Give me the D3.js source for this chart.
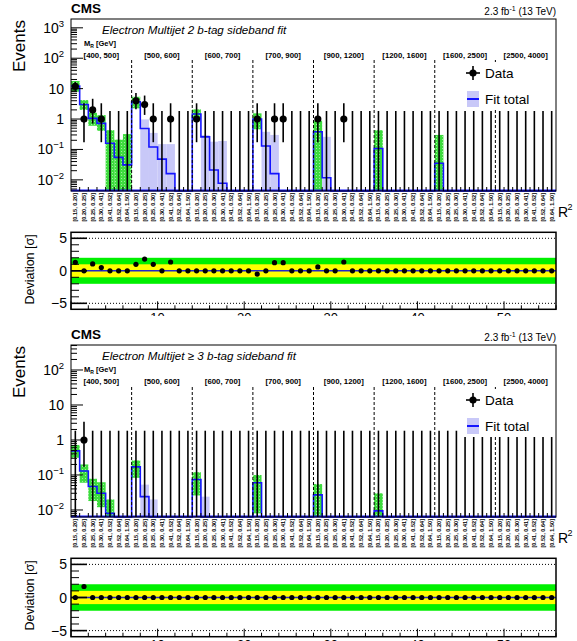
<!DOCTYPE html>
<html><head><meta charset="utf-8">
<script src="https://cdn.jsdelivr.net/npm/d3@7"></script>
<style>body{margin:0;background:#fff}svg{display:block}text{font-family:"Liberation Sans",Arial,Helvetica,sans-serif}</style>
</head><body>
<svg id="c" width="577" height="641"></svg>
<script>
// ---------------- DATA ----------------
const mrBins = ["[400, 500]","[500, 600]","[600, 700]","[700, 900]","[900, 1200]","[1200, 1600]","[1600, 2500]","[2500, 4000]"];
const r2Bins = ["[0.15, 0.20]","[0.20, 0.25]","[0.25, 0.30]","[0.30, 0.41]","[0.41, 0.52]","[0.52, 0.64]","[0.64, 1.50]"];
const yTicksTop = [0.01,0.1,1,10,100,1000];
const yTicksBot = [0.01,0.1,1,10,100];
const devTicks = [-5,0,5];
const devXTicks = [10,20,30,40,50];

// Electron Multijet 2 b-tag
const data2b = [12,1,2,1,0,0,0, 4,3,1,0,1,0,0, 1,0,0,0,0,0,0, 1,0,1,1,0,0,0, 1,0,0,1,0,0,0, 0,0,0,0,0,0,0, 0,0,0,0,0,0,0, 0,0,0,0,0,0,0];
const fit2b = [12.2,3.0,1.05,0.72,0.16,0.055,0.031, 3.7,0.49,0.12,0.048,0.016,0.001,0.001, 1.46,0.26,0.021,0.0077,0.001,0.001,0.001, 1.0,0.13,0.016,0.001,0.001,0.001,0.001, 0.38,0.0117,0.001,0.001,0.001,0.001,0.001, 0.108,0.001,0.001,0.001,0.001,0.001,0.001, 0.035,0.001,0.001,0.001,0.001,0.001,0.001, 0.001,0.001,0.001,0.001,0.001,0.001,0.001];
const bandLo2b = [7.9,2.0,0.6,0.41,0,0,0, 2.25,0,0,0,0,0,0, 0.98,0,0,0,0,0,0, 0.46,0,0,0,0,0,0, 0,0,0,0,0,0,0, 0,0,0,0,0,0,0, 0,0,0,0,0,0,0, 0,0,0,0,0,0,0];
const bandHi2b = [17.8,4.2,1.6,1.35,0.43,0.21,0.32, 5.4,0.97,0.35,0.15,0.15,0,0, 2.08,0.3,0.18,0.19,0,0,0, 1.54,0.38,0.3,0,0,0,0, 0.88,0.26,0,0,0,0,0, 0.43,0,0,0,0,0,0, 0.30,0,0,0,0,0,0, 0,0,0,0,0,0,0];
const bandKind2b = ["g","g","g","g","g","g","g", "g","b","b","b","b","n","n", "g","b","b","b","n","n","n", "g","b","b","n","n","n","n", "g","b","n","n","n","n","n", "g","n","n","n","n","n","n", "g","n","n","n","n","n","n", "n","n","n","n","n","n","n"];
const dev2b = [1.3,0,1.05,0.5,0,0,0, 1.0,1.8,1.0,0,1.35,0,0, 0,0,0,0,0,0,0, -0.5,0,1.25,1.25,0,0,0, 0.6,0,0,1.35,0,0,0, 0,0,0,0,0,0,0, 0,0,0,0,0,0,0, 0,0,0,0,0,0,0];

// Electron Multijet >= 3 b-tag
const data3b = [0,1,0,0,0,0,0, 0,0,0,0,0,0,0, 0,0,0,0,0,0,0, 0,0,0,0,0,0,0, 0,0,0,0,0,0,0, 0,0,0,0,0,0,0, 0,0,0,0,0,0,0, 0,0,0,0,0,0,0];
const fit3b = [0.49,0.13,0.047,0.03,0.008,0.0001,0.0001, 0.17,0.024,0.0001,0.0001,0.0001,0.0001,0.0001, 0.074,0.0001,0.0001,0.0001,0.0001,0.0001,0.0001, 0.06,0.0001,0.0001,0.0001,0.0001,0.0001,0.0001, 0.027,0.0001,0.0001,0.0001,0.0001,0.0001,0.0001, 0.0094,0.0001,0.0001,0.0001,0.0001,0.0001,0.0001, 0.0001,0.0001,0.0001,0.0001,0.0001,0.0001,0.0001, 0.0001,0.0001,0.0001,0.0001,0.0001,0.0001,0.0001];
const bandLo3b = [0.31,0.06,0.018,0.012,0,0,0, 0.083,0,0,0,0,0,0, 0.026,0,0,0,0,0,0, 0.008,0,0,0,0,0,0, 0,0,0,0,0,0,0, 0,0,0,0,0,0,0, 0,0,0,0,0,0,0, 0,0,0,0,0,0,0];
const bandHi3b = [0.72,0.2,0.078,0.062,0.02,0,0, 0.26,0.053,0.02,0,0,0,0, 0.12,0.024,0,0,0,0,0, 0.1,0,0,0,0,0,0, 0.055,0,0,0,0,0,0, 0.03,0,0,0,0,0,0, 0,0,0,0,0,0,0, 0,0,0,0,0,0,0];
const bandKind3b = ["g","g","g","g","g","n","n", "g","b","b","n","n","n","n", "g","b","n","n","n","n","n", "g","n","n","n","n","n","n", "g","n","n","n","n","n","n", "g","n","n","n","n","n","n", "n","n","n","n","n","n","n", "n","n","n","n","n","n","n"];
const dev3b = [0,1.66,0,0,0,0,0, 0,0,0,0,0,0,0, 0,0,0,0,0,0,0, 0,0,0,0,0,0,0, 0,0,0,0,0,0,0, 0,0,0,0,0,0,0, 0,0,0,0,0,0,0, 0,0,0,0,0,0,0];

// Poisson (Garwood) intervals used for the data error bars
const poissonLo = {0:0, 1:0.173, 2:0.708, 3:1.367, 4:2.086, 12:8.45};
const poissonHi = {0:1.84, 1:3.30, 2:4.64, 3:5.92, 4:7.16, 12:16.7};

// ---------------- DRAW ----------------
const svg = d3.select("#c");
const GREEN = "#00f000", YELLOW = "#ffff00", BLUE = "#1414ff", LBLUE = "#c8c8f8", HGREEN = "#3ddc3d";
const defs = svg.append("defs");
const pat = defs.append("pattern").attr("id","hatch").attr("width",3).attr("height",3).attr("patternUnits","userSpaceOnUse");
pat.append("rect").attr("width",3).attr("height",3).attr("fill",HGREEN);
pat.append("rect").attr("x",1).attr("y",1).attr("width",1).attr("height",1).attr("fill","#9cf09c");

const X0 = 71, X1 = 556;
const nb = 56;
const xBin = d3.scaleLinear().domain([0, nb]).range([X0, X1]);

function drawPanel(cfg){
  const g = svg.append("g");
  if (cfg.cover) g.append("rect").attr("x",0).attr("y",cfg.cover).attr("width",577).attr("height",641-cfg.cover).attr("fill","#fff");
  const y = d3.scaleLog().domain(cfg.ydom).range([cfg.yb, cfg.yt]);
  const ymin = cfg.ydom[0];
  const cy = v => y(Math.max(v, ymin));

  // bands
  const idx = d3.range(nb);
  g.selectAll(".band").data(idx.filter(i => cfg.kind[i] !== "n" && cfg.hi[i] > ymin)).join("rect")
    .attr("x", i => xBin(i)).attr("width", i => xBin(i+1)-xBin(i))
    .attr("y", i => cy(cfg.hi[i])).attr("height", i => cy(cfg.lo[i]) - cy(cfg.hi[i]))
    .attr("fill", i => cfg.kind[i] === "g" ? "url(#hatch)" : LBLUE);

  // fit step line
  let pts = [];
  idx.forEach(i => { pts.push([xBin(i), cy(cfg.fit[i])]); pts.push([xBin(i+1), cy(cfg.fit[i])]); });
  g.append("path").attr("d", d3.line()(pts)).attr("fill","none").attr("stroke",BLUE).attr("stroke-width",1.6);
  g.append("line").attr("x1",X0).attr("x2",X1).attr("y1",cfg.yb-0.5).attr("y2",cfg.yb-0.5).attr("stroke",BLUE).attr("stroke-width",2);

  // dividers
  d3.range(1,8).forEach(k => {
    g.append("line").attr("x1",xBin(k*7)).attr("x2",xBin(k*7)).attr("y1",cfg.divTop).attr("y2",cfg.yb)
     .attr("stroke","#000").attr("stroke-width",1).attr("stroke-dasharray","3,2");
  });

  // data error bars & points
  idx.forEach(i => {
    const n = cfg.data[i], xc = xBin(i+0.5);
    g.append("line").attr("x1",xc).attr("x2",xc).attr("y1",cy(n===0?ymin:poissonLo[n])).attr("y2",cy(poissonHi[n]))
      .attr("stroke","#000").attr("stroke-width",1.6);
    if (n > 0) g.append("circle").attr("cx",xc).attr("cy",y(n)).attr("r",3.6).attr("fill","#000");
  });

  // x ticks at bin edges
  d3.range(1,nb).forEach(i => g.append("line").attr("x1",xBin(i)).attr("x2",xBin(i)).attr("y1",cfg.yb).attr("y2",cfg.yb-4).attr("stroke","#000"));

  // legend
  const L = cfg.legY;
  g.append("rect").attr("x",463).attr("y",L-11).attr("width",92).attr("height",48).attr("fill","#fff");
  g.append("line").attr("x1",466).attr("x2",480).attr("y1",L).attr("y2",L).attr("stroke","#000").attr("stroke-width",1.6);
  g.append("line").attr("x1",473).attr("x2",473).attr("y1",L-7).attr("y2",L+7).attr("stroke","#000").attr("stroke-width",1.6);
  g.append("circle").attr("cx",473).attr("cy",L).attr("r",3.6).attr("fill","#000");
  g.append("text").attr("x",485).attr("y",L+4.5).attr("font-size",13.5).text("Data");
  g.append("rect").attr("x",467).attr("y",L+18).attr("width",12).attr("height",16).attr("fill",LBLUE);
  g.append("line").attr("x1",467).attr("x2",479).attr("y1",L+26).attr("y2",L+26).attr("stroke",BLUE).attr("stroke-width",2);
  g.append("text").attr("x",485).attr("y",L+30.5).attr("font-size",13.5).text("Fit total");

  // frame
  g.append("rect").attr("x",X0).attr("y",cfg.yt).attr("width",X1-X0).attr("height",cfg.yb-cfg.yt).attr("fill","none").attr("stroke","#000").attr("stroke-width",1);

  // y axis ticks (log)
  const lo = Math.floor(Math.log10(cfg.ydom[0])), hi = Math.ceil(Math.log10(cfg.ydom[1]));
  for (let e = lo; e <= hi; e++) for (let m = 1; m <= 9; m++) {
    const v = m * Math.pow(10, e);
    if (v < cfg.ydom[0] || v > cfg.ydom[1]) continue;
    const len = m === 1 ? 12 : 6;
    g.append("line").attr("x1",X0).attr("x2",X0+len).attr("y1",y(v)).attr("y2",y(v)).attr("stroke","#000").attr("stroke-width",1);
  }
  cfg.yTicks.forEach(v => {
    const e = Math.round(Math.log10(v));
    const t = g.append("text").attr("x",64).attr("y",y(v)+5).attr("text-anchor","end").attr("font-size",14);
    if (e === 0) t.text("1");
    else if (e === 1) t.text("10");
    else { t.append("tspan").text("10"); t.append("tspan").attr("dy",-6).attr("font-size",9.5).text(e < 0 ? "\u2212" + (-e) : String(e)); }
  });

  // y title
  g.append("text").attr("transform",`translate(25,${cfg.yt+1}) rotate(-90)`).attr("text-anchor","end").attr("font-size",17).text("Events");

  // texts
  g.append("text").attr("x",X0).attr("y",cfg.yt-6).attr("font-size",13.5).attr("font-weight","bold").text("CMS");
  const lt = g.append("text").attr("x",X1).attr("y",cfg.yt-4).attr("text-anchor","end").attr("font-size",10);
  lt.append("tspan").text("2.3 fb"); lt.append("tspan").attr("dy",-4).attr("font-size",7).text("-1");
  lt.append("tspan").attr("dy",4).text(" (13 TeV)");
  g.append("text").attr("x",102).attr("y",cfg.yt+14.5).attr("font-size",11.6).attr("font-style","italic").text(cfg.title);
  const mt = g.append("text").attr("x",84).attr("y",cfg.yt+27).attr("font-size",7.5).attr("font-weight","bold");
  mt.append("tspan").text("M"); mt.append("tspan").attr("dy",1.5).attr("font-size",5).text("R");
  mt.append("tspan").attr("dy",-1.5).text(" [GeV]");
  mrBins.forEach((s,k) => g.append("text").attr("x",xBin(k*7+3.5)).attr("y",cfg.yt+39).attr("text-anchor","middle")
     .attr("font-size",7.8).attr("font-weight","bold").text(s));

  // rotated R2 bin labels
  idx.forEach(i => {
    g.append("text").attr("transform",`translate(${xBin(i+0.5)+2},${cfg.yb+2}) rotate(-90)`).attr("text-anchor","end")
      .attr("font-size",5.6).attr("font-weight","bold").attr("fill","#000").text(r2Bins[i%7]);
  });
  g.append("text").attr("x",558).attr("y",cfg.yb+26).attr("font-size",14).text("R");
  g.append("text").attr("x",567.5).attr("y",cfg.yb+19).attr("font-size",9).text("2");

  // ---- deviation panel ----
  const dy = d3.scaleLinear().domain([-5.92,5.92]).range([cfg.db, cfg.dt]);
  const dg = g.append("g");
  dg.append("rect").attr("x",X0).attr("width",X1-X0).attr("y",dy(2)).attr("height",dy(-2)-dy(2)).attr("fill",GREEN);
  dg.append("rect").attr("x",X0).attr("width",X1-X0).attr("y",dy(1)).attr("height",dy(-1)-dy(1)).attr("fill",YELLOW);
  [5,-5].forEach(v => dg.append("line").attr("x1",X0).attr("x2",X1).attr("y1",dy(v)).attr("y2",dy(v)).attr("stroke","#000").attr("stroke-dasharray","1,2"));
  dg.append("line").attr("x1",X0).attr("x2",X1).attr("y1",dy(0)).attr("y2",dy(0)).attr("stroke","#2424c8").attr("stroke-width",1.5);
  dg.selectAll("circle").data(cfg.dev).join("circle").attr("cx",(d,i)=>xBin(i+0.5)).attr("cy",d=>dy(d)).attr("r",2.6).attr("fill","#000");
  dg.append("rect").attr("x",X0).attr("y",cfg.dt).attr("width",X1-X0).attr("height",cfg.db-cfg.dt).attr("fill","none").attr("stroke","#000").attr("stroke-width",1.5);
  d3.range(-5,6).forEach(v => {
    const len = (v % 5 === 0) ? 16 : 8;
    dg.append("line").attr("x1",X0).attr("x2",X0+len).attr("y1",dy(v)).attr("y2",dy(v)).attr("stroke","#000").attr("stroke-width",v%5===0?1.6:1);
  });
  devTicks.forEach(v => dg.append("text").attr("x",67).attr("y",dy(v)+5).attr("text-anchor","end").attr("font-size",14).text(v < 0 ? "\u2212" + (-v) : v));
  dg.append("text").attr("transform",`translate(34,${cfg.dt+2}) rotate(-90)`).attr("text-anchor","end").attr("font-size",12.5).html("Deviation [&#963;]");
  d3.range(0,57,2).forEach(v => {
    const len = v % 10 === 0 ? 8 : 4;
    dg.append("line").attr("x1",xBin(v)).attr("x2",xBin(v)).attr("y1",cfg.db).attr("y2",cfg.db-len).attr("stroke","#000");
  });
  devXTicks.forEach(v => dg.append("text").attr("x",xBin(v)).attr("y",cfg.db+3).attr("dominant-baseline","hanging").attr("text-anchor","middle").attr("font-size",13).text(v));
}

drawPanel({title:"Electron Multijet 2 b-tag sideband fit", ydom:[0.0043,1950], yt:19, yb:191, yTicks:yTicksTop,
  data:data2b, fit:fit2b, lo:bandLo2b, hi:bandHi2b, kind:bandKind2b, dev:dev2b, divTop:60, legY:73, dt:232.3, db:309.3});
drawPanel({title:"Electron Multijet \u2265 3 b-tag sideband fit", ydom:[0.0063,518], yt:345, yb:517, yTicks:yTicksBot,
  data:data3b, fit:fit3b, lo:bandLo3b, hi:bandHi3b, kind:bandKind3b, dev:dev3b, divTop:387, legY:400, dt:558.3, db:636.7, cover:316});
</script>
</body></html>
